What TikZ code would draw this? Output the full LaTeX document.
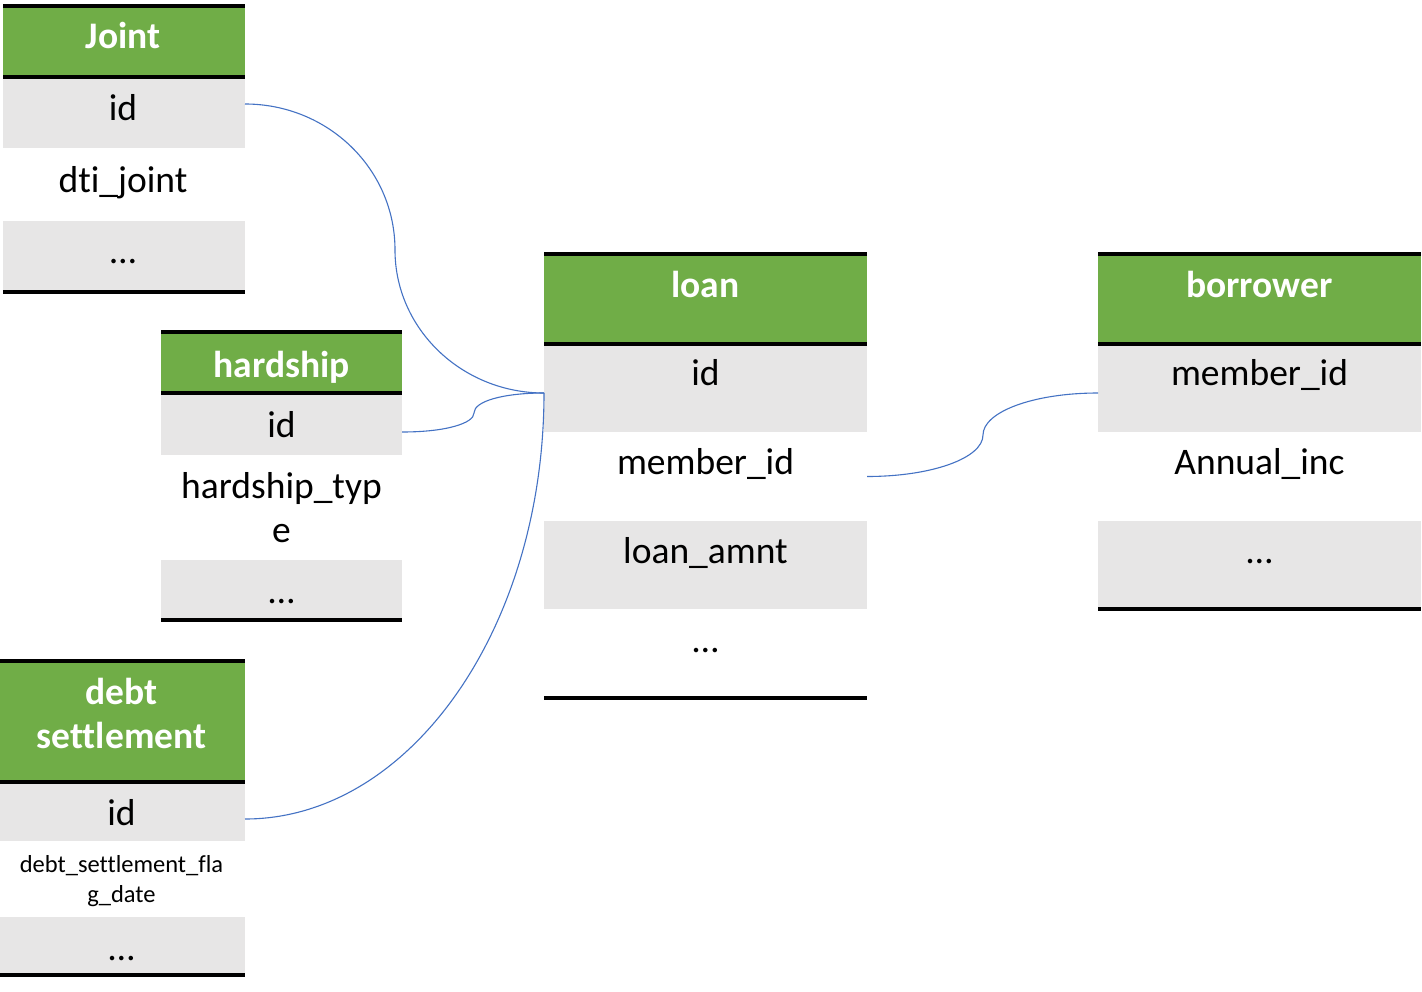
\documentclass[tikz,border=0pt]{standalone}
\usepackage{fontspec}
\setmainfont[Ligatures={NoCommon,NoRare,NoContextual}]{Carlito}
\usetikzlibrary{calc}
\definecolor{hdrgreen}{HTML}{70AD47}
\definecolor{rowgray}{HTML}{E7E6E6}
\definecolor{connblue}{HTML}{4472C4}
\newcommand\tcell[6]{\node[cellbox,fill=#6,minimum width=#4pt,minimum height=#5pt,anchor=north west] (#1) at (#2,#3) {};}
\begin{document}
\begin{tikzpicture}[x=1pt,y=-1pt,
  cellbox/.style={inner sep=0pt,outer sep=0pt,draw=none},
  rule/.style={line width=4pt,black},
  conn/.style={line width=1.1pt,connblue},
  hdrtxt/.style={anchor=base,inner sep=0pt,text=white,font=\fontsize{37.5}{44}\selectfont\bfseries},
  rowtxt/.style={anchor=base,inner sep=0pt,text=black,font=\fontsize{37.5}{44}\selectfont},
  smalltxt/.style={anchor=base,inner sep=0pt,text=black,font=\fontsize{24.5}{29}\selectfont}]
\useasboundingbox[fill=white] (0,0) rectangle (1422,991);

% ---------- Joint ----------
\tcell{joint-h}{3}{6}{242}{71}{hdrgreen}
\tcell{joint-id}{3}{79}{242}{69}{rowgray}
\tcell{joint-dti}{3}{148}{242}{73}{white}
\tcell{joint-more}{3}{221}{242}{71}{rowgray}
\draw[rule] (joint-h.north west) -- (joint-h.north east);
\draw[rule] (joint-h.south west) -- (joint-h.south east);
\draw[rule] (joint-more.south west) -- (joint-more.south east);
\node[hdrtxt] (t-joint) at (123,48) {Joint};
\node[rowtxt] (t-joint-id) at (123,120) {id};
\node[rowtxt] (t-joint-dti) at (123,192) {dti\_joint};
\node[rowtxt] (t-joint-more) at (123,263) {…};

% ---------- hardship ----------
\tcell{hard-h}{161}{332}{241}{61}{hdrgreen}
\tcell{hard-id}{161}{393}{241}{62}{rowgray}
\tcell{hard-type}{161}{455}{241}{105}{white}
\tcell{hard-more}{161}{560}{241}{60}{rowgray}
\draw[rule] (hard-h.north west) -- (hard-h.north east);
\draw[rule] (hard-h.south west) -- (hard-h.south east);
\draw[rule] (hard-more.south west) -- (hard-more.south east);
\node[hdrtxt] (t-hard) at (281.5,377) {hardship};
\node[rowtxt] (t-hard-id) at (281.5,437) {id};
\node[rowtxt] (t-hard-type1) at (281.5,498) {hardship\_typ};
\node[rowtxt] (t-hard-type2) at (281.5,542) {e};
\node[rowtxt] (t-hard-more) at (281.5,603) {…};

% ---------- debt settlement ----------
\tcell{debt-h}{0}{661}{245}{121}{hdrgreen}
\tcell{debt-id}{0}{782}{245}{59}{rowgray}
\tcell{debt-flag}{0}{841}{245}{76}{white}
\tcell{debt-more}{0}{917}{245}{58}{rowgray}
\draw[rule] (debt-h.north west) -- (debt-h.north east);
\draw[rule] (debt-h.south west) -- (debt-h.south east);
\draw[rule] (debt-more.south west) -- (debt-more.south east);
\node[hdrtxt] (t-debt1) at (121.5,704) {debt};
\node[hdrtxt] (t-debt2) at (121.5,748) {settlement};
\node[rowtxt] (t-debt-id) at (121.5,825) {id};
\node[smalltxt] (t-debt-flag1) at (121.5,872) {debt\_settlement\_fla};
\node[smalltxt] (t-debt-flag2) at (121.5,902) {g\_date};
\node[rowtxt] (t-debt-more) at (121.5,960) {…};

% ---------- loan ----------
\tcell{loan-h}{544}{254}{323}{90}{hdrgreen}
\tcell{loan-id}{544}{344}{323}{88}{rowgray}
\tcell{loan-mid}{544}{432}{323}{89}{white}
\tcell{loan-amnt}{544}{521}{323}{88}{rowgray}
\tcell{loan-more}{544}{609}{323}{89}{white}
\draw[rule] (loan-h.north west) -- (loan-h.north east);
\draw[rule] (loan-h.south west) -- (loan-h.south east);
\draw[rule] (loan-more.south west) -- (loan-more.south east);
\node[hdrtxt] (t-loan) at (705.5,297) {loan};
\node[rowtxt] (t-loan-id) at (705.5,385) {id};
\node[rowtxt] (t-loan-mid) at (705.5,474) {member\_id};
\node[rowtxt] (t-loan-amnt) at (705.5,563) {loan\_amnt};
\node[rowtxt] (t-loan-more) at (705.5,652) {…};

% ---------- borrower ----------
\tcell{bor-h}{1098}{254}{323}{90}{hdrgreen}
\tcell{bor-mid}{1098}{344}{323}{88}{rowgray}
\tcell{bor-inc}{1098}{432}{323}{89}{white}
\tcell{bor-more}{1098}{521}{323}{88}{rowgray}
\draw[rule] (bor-h.north west) -- (bor-h.north east);
\draw[rule] (bor-h.south west) -- (bor-h.south east);
\draw[rule] (bor-more.south west) -- (bor-more.south east);
\node[hdrtxt] (t-bor) at (1259.5,297) {borrower};
\node[rowtxt] (t-bor-mid) at (1259.5,385) {member\_id};
\node[rowtxt] (t-bor-inc) at (1259.5,474) {Annual\_inc};
\node[rowtxt] (t-bor-more) at (1259.5,563) {…};

% ---------- ports ----------
\coordinate (p-joint) at ([yshift=9.5pt]joint-id.east);
\coordinate (p-hard) at ([yshift=-8pt]hard-id.east);
\coordinate (p-debt) at ([yshift=-7.5pt]debt-id.east);
\coordinate (p-loan) at ([yshift=-5pt]loan-id.west);
\coordinate (p-loanmid) at (loan-mid.east);
\coordinate (p-bor) at ([yshift=-5pt]bor-mid.west);
\coordinate (b-joint) at (395,250);
\coordinate (b-hard) at (474,413);
\coordinate (b-bor) at (983,435);

% ---------- connectors ----------
\draw[conn] (p-joint) .. controls +(83,0) and +(0,-81) .. (b-joint)
  .. controls +(0,79) and +(-82,0) .. (p-loan);
\draw[conn] (p-hard) .. controls +(45,0) and +(0,10) .. (b-hard)
  .. controls +(0,-12) and +(-40,0) .. (p-loan);
\draw[conn] (p-debt) .. controls +(165,0) and +(0,235) .. (p-loan);
\draw[conn] (p-loanmid) .. controls +(65,0) and +(0,23) .. (b-bor)
  .. controls +(0,-23) and +(-65,0) .. (p-bor);
\end{tikzpicture}
\end{document}
